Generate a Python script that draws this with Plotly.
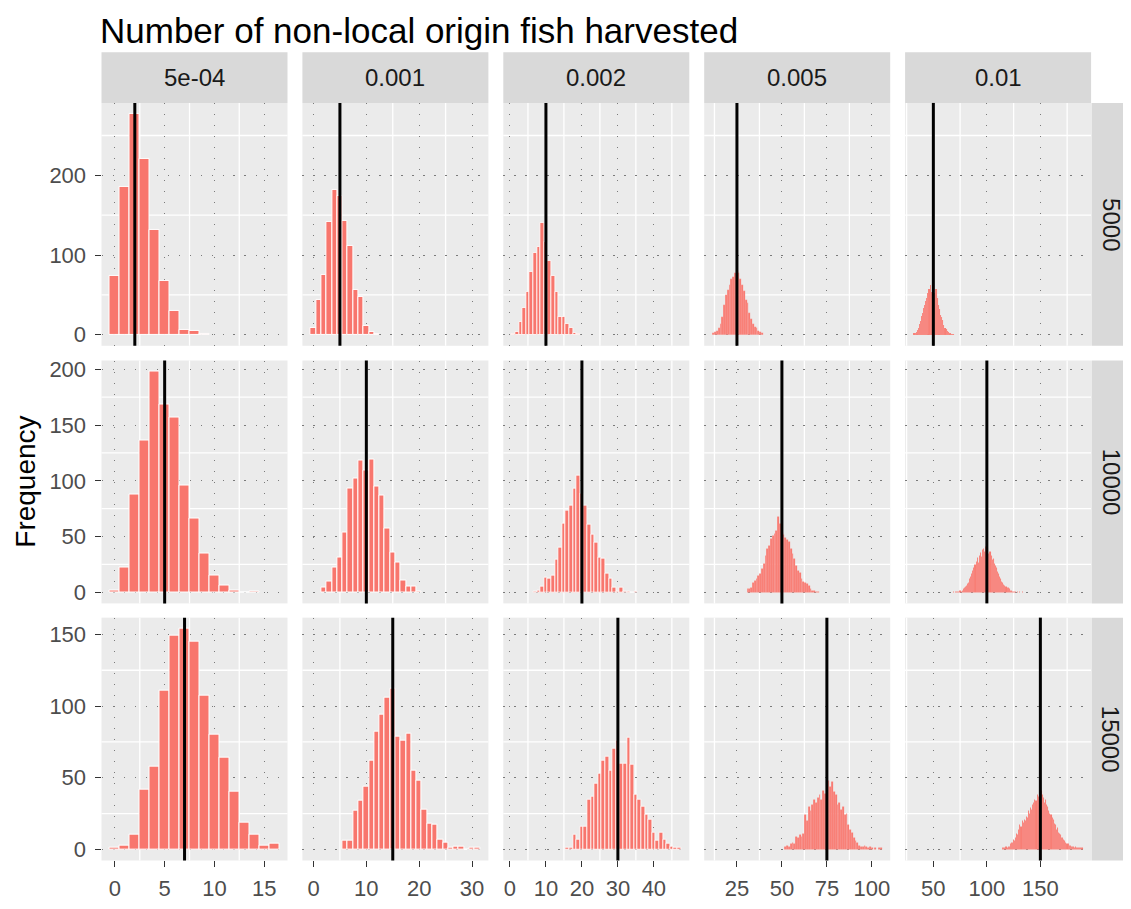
import plotly.graph_objects as go

# ---------------- data ----------------
col_labels = ["5e-04", "0.001", "0.002", "0.005", "0.01"]
row_labels = ["5000", "10000", "15000"]

# first bin value (integer count of fish) and frequencies, per panel
r1c1_start, r1c1 = 0, [74, 186, 277, 220, 132, 67, 30, 6, 5, 1]
r1c2_start, r1c2 = 0, [9, 44, 75, 141, 182, 174, 143, 112, 56, 47, 11, 4, 1]
r1c3_start, r1c3 = 1, [1, 4, 16, 34, 54, 79, 103, 110, 140, 117, 92, 74, 54, 22, 22, 13, 8, 2, 1]
r1c4_start, r1c4 = 12, [2, 3, 5, 8, 14, 22, 38, 50, 56, 63, 70, 72, 77, 80, 78, 70, 62, 55, 44, 40,
                        28, 20, 14, 10, 8, 5, 3, 2]
r1c5_start, r1c5 = 32, [2, 2, 3, 6, 9, 13, 17, 24, 28, 34, 38, 42, 46, 52, 58, 62, 54, 46, 44, 52,
                        57, 58, 46, 38, 32, 25, 22, 19, 12, 9, 7, 5, 3, 2, 2, 1, 1, 1]

r2c1_start, r2c1 = 0, [2, 22, 88, 136, 198, 168, 157, 96, 66, 35, 15, 6, 2, 0, 1]
r2c2_start, r2c2 = 2, [4, 10, 22, 31, 54, 93, 102, 118, 109, 119, 95, 87, 57, 36, 27, 11, 5, 5, 1]
r2c3_start, r2c3 = 7, [1, 2, 5, 13, 12, 15, 29, 40, 62, 73, 78, 93, 105, 89, 78, 61, 52, 45, 31, 30,
                       17, 12, 4, 1, 4, 1, 1, 0, 1]
r2c4_start, r2c4 = 31, [3, 3, 4, 9, 11, 12, 15, 17, 21, 26, 33, 39, 42, 48, 51, 53, 55, 68, 62, 54,
                        52, 49, 47, 46, 39, 35, 30, 24, 20, 18, 12, 10, 9, 8, 6, 3, 2, 2, 1, 1]
r2c5_start, r2c5 = 69, [1, 0, 1, 1, 1, 1, 2, 1, 2, 3, 4, 5, 6, 8, 9, 12, 14, 17, 20, 22,
                        25, 28, 31, 27, 33, 36, 32, 38, 39, 37, 41, 36, 40, 35, 37, 33, 29, 30, 26, 24,
                        22, 19, 17, 14, 12, 10, 9, 7, 6, 5, 4, 4, 3, 2, 2, 1, 1, 1, 1, 0,
                        1, 0, 1, 0, 1]

r3c1_start, r3c1 = 0, [1, 3, 10, 42, 58, 111, 149, 154, 145, 107, 80, 64, 40, 19, 10, 3, 4]
r3c2_start, r3c2 = 6, [6, 6, 27, 34, 44, 62, 82, 94, 106, 112, 79, 76, 81, 55, 48, 28, 18, 17, 7, 5,
                       1, 2, 2, 0, 1, 1]
r3c3_start, r3c3 = 16, [1, 1, 10, 7, 16, 16, 35, 37, 46, 53, 62, 65, 55, 70, 76, 60, 60, 78, 59, 38,
                        35, 30, 24, 21, 12, 6, 12, 7, 4, 2, 1, 1]
r3c4_start, r3c4 = 52, [2, 3, 2, 4, 5, 4, 9, 8, 10, 9, 11, 24, 20, 30, 27, 31, 35, 33, 36, 38,
                        35, 41, 39, 42, 48, 44, 47, 40, 38, 31, 33, 28, 30, 24, 25, 17, 14, 12, 8, 6,
                        5, 3, 2, 2, 3, 2, 1, 2, 1, 0, 1, 0, 1, 1]
r3c5_start, r3c5 = 115, [1, 1, 1, 2, 1, 2, 2, 4, 5, 5, 7, 6, 8, 11, 10, 14, 17, 16, 20, 19,
                         21, 20, 23, 22, 27, 25, 29, 28, 31, 33, 35, 34, 38, 37, 40, 44, 41, 38, 36, 33,
                         35, 31, 30, 27, 25, 24, 22, 21, 18, 17, 14, 15, 12, 11, 10, 8, 8, 7, 6, 5,
                         4, 4, 3, 3, 2, 2, 2, 1, 2, 1, 1, 1, 1, 1, 1]

# reference (expected) value lines
ref_lines = [[2, 5, 10, 25, 50],
             [5, 10, 20, 50, 100],
             [7, 15, 30, 75, 150]]

x_major = [[0, 5, 10, 15], [0, 10, 20, 30], [0, 10, 20, 30, 40], [25, 50, 75, 100], [50, 100, 150]]
x_minor = [[2.5, 7.5, 12.5], [5, 15, 25], [5, 15, 25, 35, 45], [12.5, 37.5, 62.5, 87.5],
           [25, 75, 125, 175]]
y_major = [[0, 100, 200], [0, 50, 100, 150, 200], [0, 50, 100, 150]]
y_minor = [[50, 150, 250], [25, 75, 125, 175], [25, 75, 125]]

panels = [
    [(r1c1_start, r1c1), (r1c2_start, r1c2), (r1c3_start, r1c3), (r1c4_start, r1c4), (r1c5_start, r1c5)],
    [(r2c1_start, r2c1), (r2c2_start, r2c2), (r2c3_start, r2c3), (r2c4_start, r2c4), (r2c5_start, r2c5)],
    [(r3c1_start, r3c1), (r3c2_start, r3c2), (r3c3_start, r3c3), (r3c4_start, r3c4), (r3c5_start, r3c5)],
]

# ---------------- layout geometry (page pixels) ----------------
PAGE_W, PAGE_H = 1131, 909
OFF = 8                      # default body margin of the page
W, H = PAGE_W - OFF, PAGE_H - 2 * OFF
col_l = [101.5 + 200.9 * k for k in range(5)]
col_w = 186.0
row_t = [101.5, 363.5, 625.0]
row_h = 247.0
strip_top = 50.0
strip_right_x0, strip_right_x1 = 1091.5, 1131

FONT = "Liberation Sans, Arial, sans-serif"
BAR = "#F8766D"


def px(x):
    return (x - OFF) / W


def py(y):
    return 1 - (y - OFF) / H


# data-driven ranges (ggplot-style 5% expansion)
x_ranges = []
for c in range(5):
    lo = min(panels[r][c][0] for r in range(3)) - 0.5
    hi = max(panels[r][c][0] + len(panels[r][c][1]) - 1 for r in range(3)) + 0.5
    e = 0.05 * (hi - lo)
    x_ranges.append([lo - e, hi + e])
y_ranges = []
for r in range(3):
    m = max(max(panels[r][c][1]) for c in range(5))
    y_ranges.append([-0.05 * m, 1.05 * m])

fig = go.Figure()
layout = dict()
shapes = []
annotations = []
bar_line_w = [1.0, 1.0, 0.8, 0.12, 0.08]

for r in range(3):
    for c in range(5):
        i = r * 5 + c + 1
        xn = "x" if i == 1 else f"x{i}"
        yn = "y" if i == 1 else f"y{i}"
        start, counts = panels[r][c]
        xs = list(range(start, start + len(counts)))
        fig.add_trace(go.Bar(x=xs, y=counts, width=1,
                             marker=dict(color=BAR, line=dict(color="white", width=bar_line_w[c])),
                             xaxis=xn, yaxis=yn, showlegend=False, hoverinfo="skip"))
        bottom = (r == 2)
        left = (c == 0)
        layout["xaxis" if i == 1 else f"xaxis{i}"] = dict(
            domain=[px(col_l[c]), px(col_l[c] + col_w)], anchor=yn,
            range=x_ranges[c], tickmode="array", tickvals=x_major[c],
            showticklabels=bottom, ticks="outside" if bottom else "",
            ticklen=6, tickwidth=1.3, tickcolor="#333333", ticklabelstandoff=2,
            tickfont=dict(family=FONT, size=22, color="#4D4D4D"),
            showgrid=True, gridcolor="#7a7a7a", gridwidth=1.2, griddash="1.5px,9.5px",
            zeroline=False, showline=False, fixedrange=True)
        layout["yaxis" if i == 1 else f"yaxis{i}"] = dict(
            domain=[py(row_t[r] + row_h), py(row_t[r])], anchor=xn,
            range=y_ranges[r], tickmode="array", tickvals=y_major[r],
            showticklabels=left, ticks="outside" if left else "",
            ticklen=6, tickwidth=1.3, tickcolor="#333333", ticklabelstandoff=4,
            tickfont=dict(family=FONT, size=22, color="#4D4D4D"),
            showgrid=True, gridcolor="#7a7a7a", gridwidth=1.2, griddash="1.5px,9.5px",
            zeroline=False, showline=False, fixedrange=True)
        # minor gridlines (white, solid) beneath the dotted major grid
        for v in x_minor[c]:
            if x_ranges[c][0] < v < x_ranges[c][1]:
                shapes.append(dict(type="line", xref=xn, yref=f"{yn} domain", x0=v, x1=v, y0=0, y1=1,
                                   line=dict(color="white", width=1.3), layer="below"))
        for v in y_minor[r]:
            if y_ranges[r][0] < v < y_ranges[r][1]:
                shapes.append(dict(type="line", xref=f"{xn} domain", yref=yn, x0=0, x1=1, y0=v, y1=v,
                                   line=dict(color="white", width=1.3), layer="below"))
        shapes.append(dict(type="line", xref=xn, yref=f"{yn} domain",
                           x0=ref_lines[r][c], x1=ref_lines[r][c], y0=0, y1=1,
                           line=dict(color="black", width=3), layer="above"))

# strips
for c in range(5):
    shapes.append(dict(type="rect", xref="paper", yref="paper",
                       x0=px(col_l[c]), x1=px(col_l[c] + col_w), y0=py(row_t[0]), y1=py(strip_top),
                       fillcolor="#D9D9D9", line=dict(width=0), layer="below"))
    annotations.append(dict(text=col_labels[c], xref="paper", yref="paper",
                            x=px(col_l[c] + col_w / 2), y=py((strip_top + row_t[0]) / 2),
                            showarrow=False, xanchor="center", yanchor="middle",
                            font=dict(family=FONT, size=24, color="#1A1A1A")))
for r in range(3):
    shapes.append(dict(type="rect", xref="paper", yref="paper",
                       x0=px(strip_right_x0), x1=px(strip_right_x1), y0=py(row_t[r] + row_h), y1=py(row_t[r]),
                       fillcolor="#D9D9D9", line=dict(width=0), layer="below"))
    annotations.append(dict(text=row_labels[r], xref="paper", yref="paper",
                            x=px((strip_right_x0 + strip_right_x1) / 2), y=py(row_t[r] + row_h / 2),
                            showarrow=False, xanchor="center", yanchor="middle", textangle=90,
                            font=dict(family=FONT, size=24, color="#1A1A1A")))

annotations.append(dict(text="Frequency", xref="paper", yref="paper",
                        x=px(26), y=py((row_t[0] + row_t[2] + row_h) / 2),
                        showarrow=False, xanchor="center", yanchor="middle", textangle=-90,
                        font=dict(family=FONT, size=28, color="black")))
annotations.append(dict(text="Number of non-local origin fish harvested", xref="paper", yref="paper",
                        x=px(98), y=py(27.5), showarrow=False, xanchor="left", yanchor="middle",
                        font=dict(family=FONT, size=35, color="black")))

fig.update_layout(**layout)
fig.update_layout(width=W, height=H, margin=dict(l=0, r=0, t=0, b=0),
                  paper_bgcolor="white", plot_bgcolor="#EBEBEB",
                  bargap=0, shapes=shapes, annotations=annotations, showlegend=False)

fig.write_html("out.html")
